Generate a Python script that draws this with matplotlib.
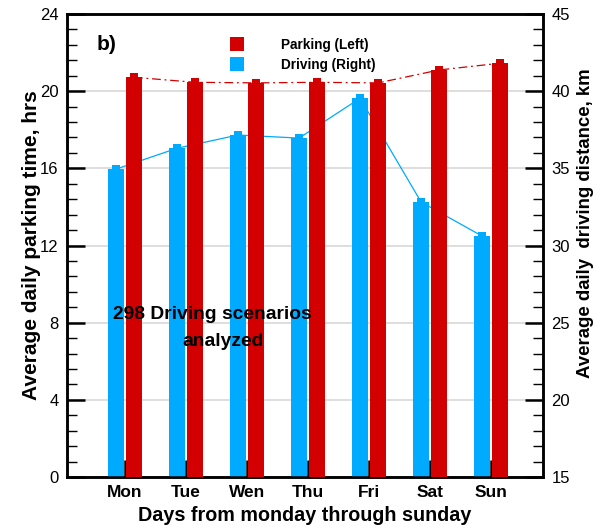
import matplotlib
matplotlib.use("Agg")
import matplotlib.pyplot as plt
from matplotlib.lines import Line2D
from matplotlib.ticker import MultipleLocator
import numpy as np

plt.rcParams['font.family'] = ['Liberation Sans', 'DejaVu Sans']

days = ["Mon", "Tue", "Wen", "Thu", "Fri", "Sat", "Sun"]
parking_hrs = [20.72, 20.46, 20.43, 20.46, 20.43, 21.10, 21.45]
driving_km = [34.95, 36.30, 37.16, 36.96, 39.54, 32.82, 30.61]

RED = "#D20000"
BLUE = "#00AAFF"

x = np.arange(len(days))
bw = 0.26
off = 0.148

fig = plt.figure(figsize=(5.96, 5.27), dpi=100)
ax1 = fig.add_axes([0.1124, 0.0949, 0.7987, 0.8785])
ax2 = ax1.twinx()

# driving axis goes underneath so the parking bars sit on top
ax2.set_zorder(0)
ax1.set_zorder(1)
ax1.patch.set_visible(False)
ax2.patch.set_visible(True)
ax2.patch.set_facecolor("white")

# driving distance (right axis)
ax2.bar(x - off, np.array(driving_km) - 15, bw, bottom=15, color=BLUE, zorder=3)
ax2.plot(x - off, driving_km, color=BLUE, lw=0.9, marker="s", ms=5.5,
         markeredgewidth=0, zorder=2)
ax2.set_ylim(15, 45)
ax2.yaxis.set_major_locator(MultipleLocator(5))
ax2.yaxis.set_minor_locator(MultipleLocator(1))
ax2.grid(axis="y", which="major", color="#d8d8d8", lw=1.2, zorder=0)
ax2.set_axisbelow(True)

# parking time (left axis)
ax1.bar(x + off, parking_hrs, bw, color=RED, zorder=3)
ax1.plot(x + off, parking_hrs, color=RED, lw=0.9, ls=(0, (7, 3, 1.5, 3)),
         marker="s", ms=5.5, markeredgewidth=0, zorder=2)
ax1.set_ylim(0, 24)
ax1.set_xlim(-0.95, 6.85)
ax1.yaxis.set_major_locator(MultipleLocator(4))
ax1.yaxis.set_minor_locator(MultipleLocator(0.8))
ax1.set_xticks(x)
ax1.set_xticklabels(days, fontweight="bold", fontsize=12.5)

for a in (ax1, ax2):
    for s in a.spines.values():
        s.set_linewidth(1.8)

ax1.tick_params(axis="y", which="major", direction="in", length=13, width=1.8,
                labelsize=12, pad=6)
ax1.tick_params(axis="y", which="minor", direction="in", length=7, width=1.0)
ax1.tick_params(axis="x", which="major", direction="in", length=12, width=1.8,
                pad=6)
ax2.tick_params(axis="y", which="major", direction="in", length=13, width=1.8,
                labelsize=12, pad=6)
ax2.tick_params(axis="y", which="minor", direction="in", length=7, width=1.0)

ax1.set_ylabel("Average daily parking time, hrs", fontsize=15, fontweight="bold")
ax1.yaxis.set_label_coords(-0.055, 0.5)
ax2.set_ylabel("Average daily  driving distance, km", fontsize=13.4,
               fontweight="bold")
ax2.yaxis.set_label_coords(1.071, 0.549)
ax1.set_xlabel("Days from monday through sunday", fontsize=14.2,
               fontweight="bold", labelpad=4)

ax1.text(0.063, 0.935, "b)", transform=ax1.transAxes, fontsize=15,
         fontweight="bold", va="center", ha="left")

ax1.text(1.43, 8.4, "298 Driving scenarios", fontsize=13.9, fontweight="bold",
         ha="center", va="center", zorder=5)
ax1.text(1.60, 7.0, "analyzed", fontsize=13.9, fontweight="bold",
         ha="center", va="center", zorder=5)

handles = [Line2D([], [], ls="none", marker="s", ms=10, color=RED, mew=0),
           Line2D([], [], ls="none", marker="s", ms=10, color=BLUE, mew=0)]
ax1.legend(handles, ["Parking (Left)", "Driving (Right)"], loc="upper left",
           bbox_to_anchor=(0.317, 0.96), frameon=False,
           prop={"weight": "bold", "size": 9.8}, handletextpad=2.2,
           labelspacing=0.46, borderaxespad=0)

fig.savefig("out.png", dpi=100)
